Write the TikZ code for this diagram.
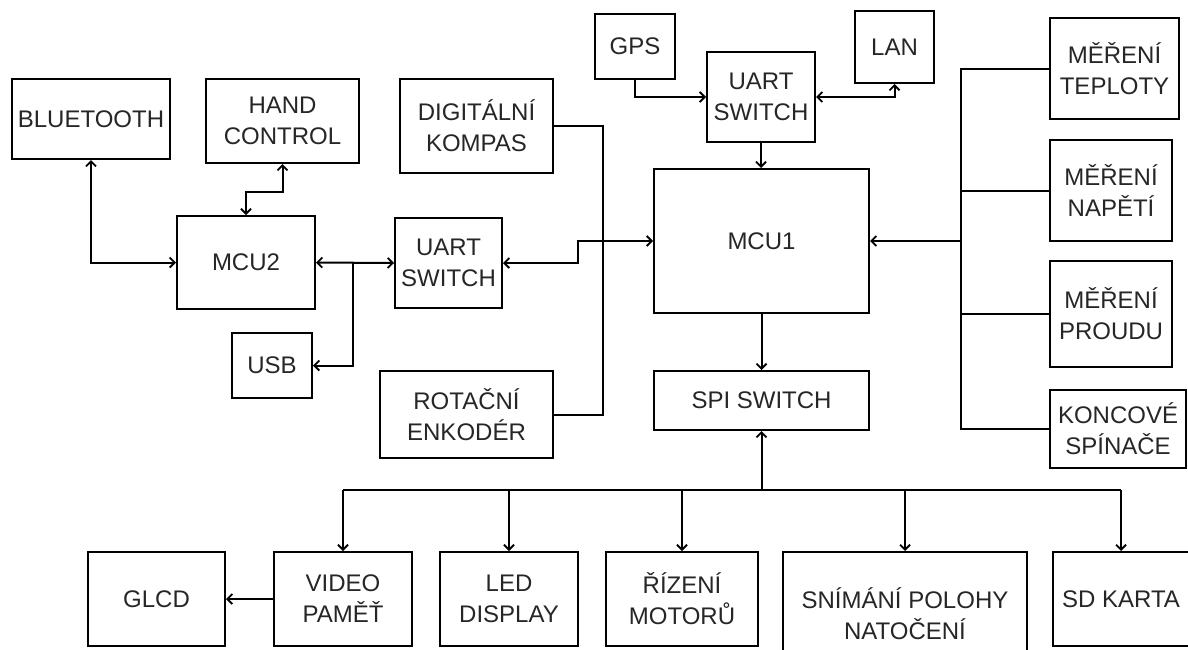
\documentclass[tikz,border=0pt]{standalone}
\usepackage{fontspec}
\setmainfont{Liberation Sans}
\usetikzlibrary{arrows.meta,calc}
\tikzset{
  blk/.style={draw=black, line width=2pt, inner sep=0pt, align=center,
    font=\fontsize{24}{31}\selectfont, text=black!85},
  conn/.style={line width=2pt, draw=black},
  tipb/.tip={Straight Barb[length=5pt,width=10pt,line width=1.8pt]},
}
\begin{document}
\begin{tikzpicture}[x=1pt,y=1pt,>=tipb]
\useasboundingbox (0,0) rectangle (1188,-649);
\fill[white] (0,0) rectangle (1188,-649);
% top / left group
\node[blk, minimum width=158pt, minimum height=80pt] (bt)  at (91,-119) {BLUETOOTH};
\node[blk, minimum width=153pt, minimum height=84pt] (hc)  at (282.5,-121) {HAND\\CONTROL};
\node[blk, minimum width=153pt, minimum height=94pt] (dk)  at (476.5,-126) {DIGITÁLNÍ\\KOMPAS};
\node[blk, minimum width=80pt, minimum height=65pt] (gps) at (635,-46.5) {GPS};
\node[blk, minimum width=108pt, minimum height=90pt] (u1)  at (761,-97) {UART\\SWITCH};
\node[blk, minimum width=79pt, minimum height=72pt] (lan) at (894.5,-47) {LAN};
\node[blk, minimum width=129pt, minimum height=101pt] (tep) at (1114.5,-68.5) {MĚŘENÍ\\TEPLOTY};
\node[blk, minimum width=215pt, minimum height=144pt] (mcu1) at (761.5,-241) {MCU1};
\node[blk, minimum width=122pt, minimum height=101pt] (nap) at (1111,-190.5) {MĚŘENÍ\\NAPĚTÍ};
\node[blk, minimum width=138pt, minimum height=93pt] (mcu2) at (246,-262.5) {MCU2};
\node[blk, minimum width=107pt, minimum height=90pt] (u2)  at (448.5,-263) {UART\\SWITCH};
\node[blk, minimum width=122pt, minimum height=106pt] (pro) at (1111,-314) {MĚŘENÍ\\PROUDU};
\node[blk, minimum width=80pt, minimum height=65pt] (usb) at (272,-365.5) {USB};
\node[blk, minimum width=173pt, minimum height=87pt] (rot) at (466.5,-414.5) {ROTAČNÍ\\ENKODÉR};
\node[blk, minimum width=215pt, minimum height=59pt] (spi) at (761.5,-400.5) {SPI SWITCH};
\node[blk, minimum width=136pt, minimum height=78pt] (kon) at (1118,-429) {KONCOVÉ\\SPÍNAČE};
% bottom row
\node[blk, minimum width=137pt, minimum height=94pt] (glcd) at (156.5,-599) {GLCD};
\node[blk, minimum width=138pt, minimum height=94pt] (vid)  at (343,-599) {VIDEO\\PAMĚŤ};
\node[blk, minimum width=138pt, minimum height=94pt] (led)  at (509,-599) {LED\\DISPLAY};
\node[blk, minimum width=152pt, minimum height=94pt] (riz)  at (682,-599) {ŘÍZENÍ\\MOTORŮ};
\node[blk, minimum width=244pt, minimum height=123pt] (sni)  at (905,-613.5) {SNÍMÁNÍ POLOHY\\NATOČENÍ};
\node[blk, minimum width=136pt, minimum height=94pt] (sd)   at (1121,-599) {SD KARTA};
% helper coordinates
\coordinate (rb) at (961,0);
\coordinate (bb) at (0,-490);
\coordinate (jn) at (353,-262.5);
% connectors
\draw[conn,<->] (bt.south) |- (mcu2.west);
\draw[conn,<->] (hc.south) -- ++(0,-28) -| (mcu2.north);
\draw[conn,<->] (mcu2.east) -- (u2.west);
\draw[conn,->] (jn) |- (usb.east);
\draw[conn,<->] (u2.east) -- ++(75,0) |- (mcu1.west);
\draw[conn] (dk.east) -- ++(49,0) |- (rot.east);
\draw[conn,->] (gps.south) |- (u1.west);
\draw[conn,<->] (u1.east) -| (lan.south);
\draw[conn,->] (u1.south) -- (u1.south |- mcu1.north);
\draw[conn] (tep.west) -- (tep.west -| rb) -- (kon.west -| rb) -- (kon.west);
\draw[conn] (nap.west) -- (nap.west -| rb);
\draw[conn] (pro.west) -- (pro.west -| rb);
\draw[conn,->] (mcu1.east -| rb) -- (mcu1.east);
\draw[conn,->] (mcu1.south) -- (spi.north);
\draw[conn,->] (spi.south |- bb) -- (spi.south);
\draw[conn] (vid.north |- bb) -- (sd.north |- bb);
\draw[conn,->] (vid.north |- bb) -- (vid.north);
\draw[conn,->] (led.north |- bb) -- (led.north);
\draw[conn,->] (riz.north |- bb) -- (riz.north);
\draw[conn,->] (sni.north |- bb) -- (sni.north);
\draw[conn,->] (sd.north |- bb) -- (sd.north);
\draw[conn,->] (vid.west) -- (glcd.east);
\end{tikzpicture}
\end{document}
